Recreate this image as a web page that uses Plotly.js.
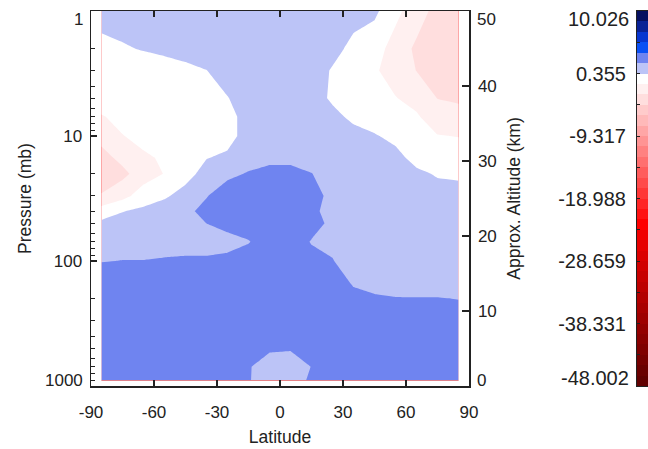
<!DOCTYPE html>
<html><head><meta charset="utf-8">
<script src="https://cdn.plot.ly/plotly-3.0.1.min.js"></script>
<style>html,body{margin:0;padding:0;background:#fff}#chart{width:648px;height:449px}</style>
</head><body><div id="chart"></div>
<script>
// ---- data ----
const latitudes = [-85,-75,-65,-55,-45,-35,-25,-15,-5,5,15,25,35,45,55,65,75,85];
const pressureLevels = [1,2,3,5,7,10,15,20,30,40,50,70,100,150,200,300,500,700,900];
const row_1mb   = [1.2, 1.1, 1.0, 0.9, 0.9, 1.0, 1.1, 1.2, 1.2, 1.2, 1.2, 1.0, 1.0, 0.7, -0.9, -2.0, -3.5, -3.6];
const row_2mb   = [-0.23, 0.2, 0.45, 0.7, 0.9, 1.0, 1.1, 1.2, 1.3, 1.3, 1.2, 0.9, -0.1, -0.7, -1.8, -3.2, -3.6, -3.8];
const row_3mb   = [-0.5, -0.5, -0.4, -0.31, 0.0, 0.33, 0.9, 1.1, 1.3, 1.3, 1.2, 0.2, -0.4, -1.1, -1.8, -2.9, -3.5, -3.7];
const row_5mb   = [-0.6, -0.7, -0.6, -0.5, -0.3, -0.2, 0.3, 1.0, 1.2, 1.2, 1.1, 0.1, -0.3, -0.9, -1.2, -1.7, -2.9, -3.1];
const row_7mb   = [-1.35, -0.9, -0.7, -0.6, -0.4, -0.3, -0.2, 1.0, 1.2, 1.2, 1.1, 0.8, 0.0, -0.5, -0.6, -1.1, -2.0, -2.3];
const row_10mb  = [-2.3, -1.3, -0.9, -0.8, -0.5, -0.3, -0.3, 1.1, 1.4, 1.4, 1.2, 1.1, 0.9, 0.5, -0.1, -0.7, -1.2, -1.3];
const row_15mb  = [-3.5, -2.4, -1.45, -1.1, -0.5, 0.3, 0.7, 1.5, 1.7, 1.7, 1.4, 1.2, 1.1, 1.1, 0.9, -0.2, -0.5, -0.6];
const row_20mb  = [-4.2, -3.3, -2.0, -1.2, -0.3, 1.0, 1.7, 2.05, 2.3, 2.3, 2.0, 1.4, 1.2, 1.2, 1.1, 0.7, 0.2, 0.1];
const row_30mb  = [-2.7, -1.8, -0.5, 0.1, 1.0, 1.9, 2.6, 2.8, 3.0, 3.0, 2.6, 1.5, 1.3, 1.3, 1.2, 1.1, 1.0, 0.9];
const row_40mb  = [-0.5, 0.3, 0.7, 1.2, 1.7, 2.3, 2.6, 2.8, 3.0, 3.0, 2.2, 1.6, 1.35, 1.35, 1.25, 1.15, 1.1, 1.05];
const row_50mb  = [0.7, 0.9, 1.2, 1.5, 1.5, 1.97, 2.4, 2.6, 3.0, 3.0, 2.4, 1.7, 1.4, 1.4, 1.3, 1.2, 1.2, 1.2];
const row_70mb  = [1.3, 1.3, 1.4, 1.6, 1.6, 1.6, 1.52, 1.9, 2.6, 2.6, 1.9, 1.8, 1.5, 1.5, 1.4, 1.3, 1.3, 1.3];
const row_100mb = [1.9, 2.0, 2.0, 2.05, 2.1, 2.1, 2.3, 2.5, 2.5, 2.5, 2.3, 2.0, 1.6, 1.6, 1.5, 1.4, 1.4, 1.4];
const row_150mb = [3.0, 3.0, 3.0, 3.0, 3.0, 3.0, 3.0, 3.0, 2.8, 2.8, 2.6, 2.6, 1.85, 1.7, 1.7, 1.6, 1.6, 1.6];
const row_200mb = [3.2, 3.2, 3.2, 3.2, 3.2, 3.2, 3.1, 3.0, 2.9, 2.8, 2.6, 2.7, 2.3, 2.08, 2.0, 2.0, 2.0, 1.95];
const row_300mb = [3.3, 3.3, 3.3, 3.3, 3.3, 3.2, 3.1, 2.9, 2.7, 2.6, 2.5, 2.6, 2.6, 2.4, 2.4, 2.4, 2.4, 2.3];
const row_500mb = [3.3, 3.3, 3.3, 3.3, 3.2, 3.1, 3.0, 2.6, 2.2, 2.1, 2.3, 2.5, 2.6, 2.6, 2.6, 2.6, 2.6, 2.6];
const row_700mb = [3.2, 3.2, 3.2, 3.1, 3.0, 2.9, 2.8, 2.1, 1.2, 1.2, 2.0, 2.4, 2.5, 2.6, 2.6, 2.6, 2.6, 2.6];
const row_900mb = [3.0, 3.0, 3.0, 3.0, 2.9, 2.8, 2.7, 2.1, 1.0, 1.0, 2.3, 2.4, 2.5, 2.6, 2.6, 2.6, 2.6, 2.6];

const latTickVals = [-90,-60,-30,0,30,60,90];
const latTickText = ['-90','-60','-30','0','30','60','90'];
const pressureTickVals = [1,10,100,1000];
const pressureTickText = ['1','10','100','1000'];
const pressureMinorTicks = [2,3,4,5,6,7,8,9,20,30,40,50,60,70,80,90,200,300,400,500,600,700,800,900];
const altitudeTickVals = [0,10,20,30,40,50];
const altitudeTickText = ['0','10','20','30','40','50'];
const colorbarTickVals = [-48.002,-38.331,-28.659,-18.988,-9.317,0.355,10.026];
const colorbarTickText = ['-48.002','-38.331','-28.659','-18.988','-9.317','0.355','10.026'];
const contourStart = -48.002, contourEnd = 10.026, nBands = 36;
// band colours, bottom (most negative) to top
const bandColors = [
 '#600000','#6a0000','#750000','#7f0000','#890000','#930000','#9e0000','#a80000',
 '#b20000','#bd0000','#c70000','#d10000','#db0000','#e60000','#f00000','#ff0000',
 '#ff1212','#ff2525','#ff3737','#ff4a4a','#ff5c5c','#ff6f6f','#ff8181','#ff9494',
 '#ffa6a6','#ffb9b9','#ffcbcb','#ffdede','#fff0f0','#ffffff',
 '#bcc4f7','#6f84f0','#0a50f5','#0836d0','#0a2296','#061060'
];
const edgeColor = '#ffd6d6'; // faint tint under the contour fills

// ---- build ----
const contourSize = (contourEnd - contourStart) / nBands;
const zGrid = [row_1mb,row_2mb,row_3mb,row_5mb,row_7mb,row_10mb,row_15mb,row_20mb,row_30mb,row_40mb,
  row_50mb,row_70mb,row_100mb,row_150mb,row_200mb,row_300mb,row_500mb,row_700mb,row_900mb];
const scale = [[0, edgeColor]];
bandColors.forEach((c,k)=>scale.push([(k+1)/(nBands+1), c]));
scale.push([1, bandColors[nBands-1]]);
const levelEdges = [], bandCenters = [];
for (let k=0;k<=nBands;k++) levelEdges.push(contourStart + k*contourSize);
for (let k=0;k<nBands;k++) bandCenters.push([contourStart + (k+0.5)*contourSize]);
const cbMinor = [];
for (let i=0;i<colorbarTickVals.length-1;i++) cbMinor.push((colorbarTickVals[i]+colorbarTickVals[i+1])/2);

// end labels are drawn nudged inward (as in the original); inner labels stay on the axes
const inner = arr => arr.map((t,i)=> (i===0||i===arr.length-1) ? '' : t);

const FONT = '"Liberation Sans", Arial, Helvetica, sans-serif';
const INK = '#222';
const tickFont = {family:FONT, size:17, color:INK};
const cbFont = {family:FONT, size:20, color:INK};
const traces = [
 {type:'contour', x:latitudes, y:pressureLevels, z:zGrid, xaxis:'x', yaxis:'y',
  autocontour:false, contours:{start:contourStart, end:contourEnd, size:contourSize, coloring:'fill', showlines:false},
  line:{width:0, smoothing:0}, colorscale:scale, showscale:false, hoverinfo:'skip'},
 {type:'scatter', mode:'none', x:[null], y:[null], xaxis:'x', yaxis:'y2', hoverinfo:'skip', showlegend:false},
 {type:'heatmap', x:[0,1], y:levelEdges, z:bandCenters, xaxis:'x3', yaxis:'y3',
  colorscale:scale, zmin:contourStart - contourSize/2, zmax:contourEnd + contourSize/2,
  showscale:false, hoverinfo:'skip'}
];
const axBase = {showgrid:false, zeroline:false, showline:true, linecolor:INK, linewidth:1.5,
  tickcolor:INK, tickwidth:1.5, tickfont:tickFont};
const titleFont = {family:FONT, size:17.5, color:INK};
const endLabel = (text, xref, x, xanchor, xshift, yref, y, yshift, font) => ({
  text, xref, x, xanchor, xshift, yref, y, yanchor:'middle', yshift, showarrow:false, font});
const annotations = [
  endLabel(pressureTickText[0], 'x domain', 0, 'right', -6, 'y domain', 1, -8, tickFont),
  endLabel(pressureTickText[3], 'x domain', 0, 'right', -6, 'y domain', 0, 6, tickFont),
  endLabel(altitudeTickText[5], 'x domain', 1, 'left', 6, 'y domain', 1, -8, tickFont),
  endLabel(altitudeTickText[0], 'x domain', 1, 'left', 6, 'y domain', 0, 6, tickFont),
  endLabel(colorbarTickText[6], 'x3 domain', 0, 'right', -6, 'y3 domain', 1, -8, cbFont),
  endLabel(colorbarTickText[0], 'x3 domain', 0, 'right', -6, 'y3 domain', 0, 8, cbFont)
];
const layout = {
  width:648, height:449, margin:{l:91, r:0, t:11, b:63, pad:0},
  paper_bgcolor:'#fff', plot_bgcolor:'rgba(0,0,0,0)', showlegend:false,
  font:{family:FONT, size:17, color:INK},
  annotations,
  xaxis:Object.assign({}, axBase, {domain:[0, 378/557], range:[-90,90], anchor:'y',
    tickmode:'array', tickvals:latTickVals, ticktext:latTickText, ticks:'inside', ticklen:6,
    mirror:'ticks', ticklabelstandoff:10,
    title:{text:'Latitude', font:titleFont, standoff:10}}),
  yaxis:Object.assign({}, axBase, {type:'log', range:[3,0], domain:[0,1], anchor:'x',
    tickmode:'array', tickvals:pressureTickVals, ticktext:inner(pressureTickText), ticks:'inside', ticklen:6,
    minor:{ticks:'inside', ticklen:4, tickvals:pressureMinorTicks, tickcolor:INK, tickwidth:1.2, showgrid:false},
    ticklabelstandoff:4,
    title:{text:'Pressure (mb)', font:titleFont, standoff:17}}),
  yaxis2:Object.assign({}, axBase, {overlaying:'y', side:'right', anchor:'x', range:[0,50],
    tickmode:'array', tickvals:altitudeTickVals, ticktext:inner(altitudeTickText), ticks:'inside', ticklen:7, ticklabelstandoff:4,
    title:{text:'Approx. Altitude (km)', font:titleFont, standoff:12}}),
  xaxis3:{domain:[546/557, 1], range:[0,1], anchor:'y3', showticklabels:false, ticks:'',
    showline:true, mirror:true, linecolor:INK, linewidth:1, showgrid:false, zeroline:false, fixedrange:true},
  yaxis3:Object.assign({}, axBase, {domain:[0,1], anchor:'x3', side:'left', range:[contourStart, contourEnd],
    tickmode:'array', tickvals:colorbarTickVals, ticktext:inner(colorbarTickText), ticks:'inside', ticklen:3,
    linewidth:1, tickwidth:1, mirror:true, ticklabelstandoff:6,
    minor:{ticks:'inside', ticklen:3, tickvals:cbMinor, tickcolor:INK, tickwidth:1, showgrid:false},
    tickfont:cbFont})
};
Plotly.newPlot('chart', traces, layout, {staticPlot:true, displayModeBar:false});
</script></body></html>
